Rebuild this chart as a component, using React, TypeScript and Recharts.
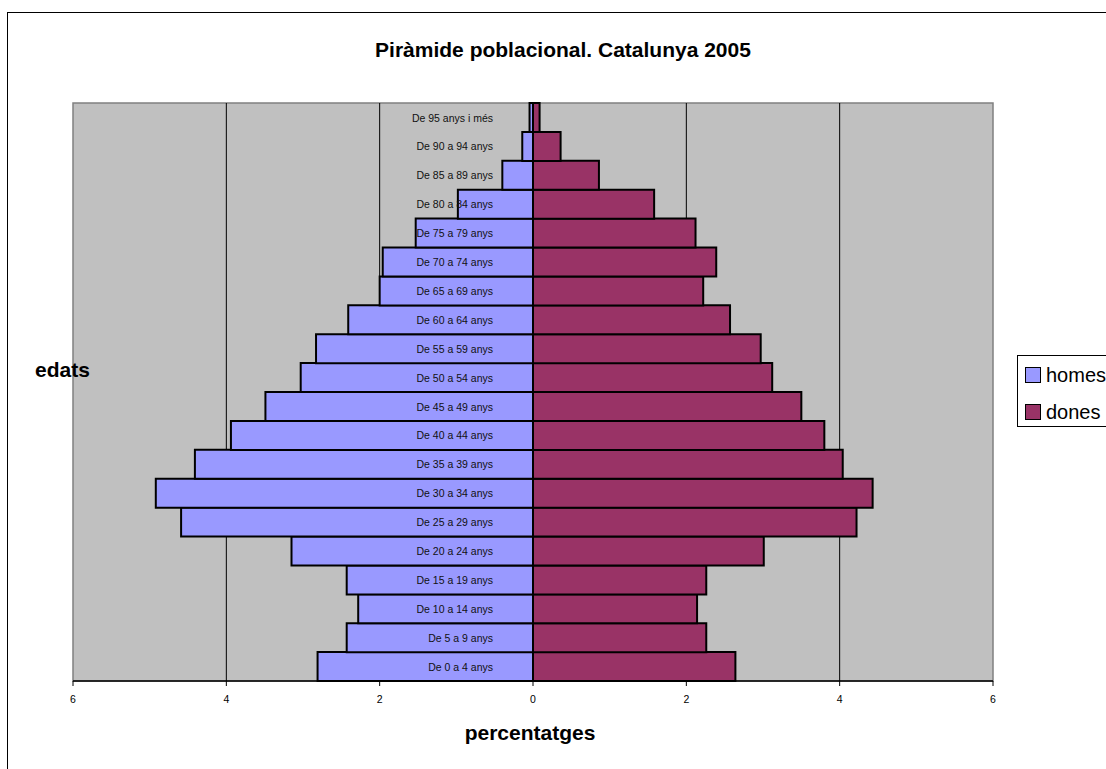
import React from 'react';
import {
  BarChart, Bar, XAxis, YAxis, ReferenceLine, ReferenceArea, Legend, LabelList,
} from 'recharts';

// ─── Data ─────────────────────────────────────────────────────────────────────
const AGES = [
  'De 0 a 4 anys', 'De 5 a 9 anys', 'De 10 a 14 anys', 'De 15 a 19 anys',
  'De 20 a 24 anys', 'De 25 a 29 anys', 'De 30 a 34 anys', 'De 35 a 39 anys',
  'De 40 a 44 anys', 'De 45 a 49 anys', 'De 50 a 54 anys', 'De 55 a 59 anys',
  'De 60 a 64 anys', 'De 65 a 69 anys', 'De 70 a 74 anys', 'De 75 a 79 anys',
  'De 80 a 84 anys', 'De 85 a 89 anys', 'De 90 a 94 anys', 'De 95 anys i més',
];
const HOMES = [
  2.81, 2.43, 2.28, 2.43, 3.15, 4.59, 4.92, 4.41, 3.94, 3.49,
  3.03, 2.83, 2.41, 2.0, 1.96, 1.53, 0.98, 0.4, 0.14, 0.045,
];
const DONES = [
  2.64, 2.26, 2.14, 2.26, 3.01, 4.22, 4.43, 4.04, 3.8, 3.5,
  3.12, 2.97, 2.57, 2.22, 2.39, 2.12, 1.58, 0.86, 0.36, 0.086,
];
const SERIES = ['homes', 'dones'];
const X_TICKS = [-6, -4, -2, 0, 2, 4, 6];
const GRID_X = [-4, -2, 2, 4];

const data = AGES.map((age, i) => ({ age, homes: -HOMES[i], dones: DONES[i] }));

const FONT = '"Liberation Sans", Arial, sans-serif';

// ─── Category label drawn left of the zero line ───────────────────────────────
const AgeLabel = (props: any) => {
  const { x, y, width, height, value } = props;
  const right = Math.max(x, x + width);
  return (
    <text
      x={right - 40}
      y={y + height / 2}
      textAnchor="end"
      dominantBaseline="central"
      fontSize={10.5}
      fontFamily={FONT}
      fill="#111"
    >
      {value}
    </text>
  );
};

// ─── Legend box ───────────────────────────────────────────────────────────────
const LegendBox = ({ payload }: any) => {
  const items = [...(payload || [])].sort(
    (a: any, b: any) => SERIES.indexOf(a.value) - SERIES.indexOf(b.value),
  );
  return (
    <div
      style={{
        border: '1px solid #000', background: '#fff', width: 120, height: 72,
        boxSizing: 'border-box', paddingLeft: 7, paddingTop: 4, fontFamily: FONT,
      }}
    >
      {items.map((p: any) => (
        <div key={p.value} style={{ display: 'flex', alignItems: 'center', height: 30, marginBottom: 7 }}>
          <span
            style={{
              display: 'inline-block', width: 14, height: 14, background: p.color,
              border: '1.5px solid #000', marginRight: 5,
            }}
          />
          <span style={{ fontSize: 20, color: '#000' }}>{p.value}</span>
        </div>
      ))}
    </div>
  );
};

export default function App() {
  return (
    <div style={{ position: 'absolute', left: 0, top: 0, width: 1106, height: 769, overflow: 'hidden', background: '#fff' }}>
      <div
        style={{
          position: 'absolute', left: 7, top: 12, width: 1140, height: 800,
          border: '1px solid #000', boxSizing: 'border-box',
        }}
      />
      <div style={{ position: 'absolute', left: 8, top: 13 }}>
        <BarChart
          width={1098}
          height={756}
          data={data}
          layout="vertical"
          stackOffset="sign"
          barCategoryGap={0}
          margin={{ top: 90, right: 113, left: 65, bottom: 58 }}
        >
          <ReferenceArea x1={-6} x2={6} fill="#C0C0C0" fillOpacity={1} stroke="#808080" strokeWidth={1.5} zIndex={-100} />
          {GRID_X.map((v) => (
            <ReferenceLine key={v} x={v} stroke="#000" strokeWidth={1} zIndex={-50} />
          ))}
          <XAxis
            type="number"
            domain={[-6, 6]}
            ticks={X_TICKS}
            tickFormatter={(v) => String(Math.abs(v))}
            height={30}
            tick={{ fontSize: 10.5, fill: '#000', fontFamily: FONT }}
            tickSize={5}
            tickMargin={10}
            axisLine={{ stroke: '#000', strokeWidth: 1.5 }}
            tickLine={{ stroke: '#000' }}
          />
          <YAxis type="category" dataKey="age" reversed hide />
          <Legend
            layout="horizontal"
            verticalAlign="middle"
            align="center"
            content={<LegendBox />}
            wrapperStyle={{ left: 1009, top: 342, width: 130 }}
          />
          <Bar dataKey="homes" name="homes" stackId="p" fill="#9999FF" stroke="#000" strokeWidth={2} isAnimationActive={false}>
            <LabelList dataKey="age" content={<AgeLabel />} />
          </Bar>
          <Bar dataKey="dones" name="dones" stackId="p" fill="#993366" stroke="#000" strokeWidth={2} isAnimationActive={false} />
        </BarChart>
      </div>
      <div style={{ position: 'absolute', left: 263, width: 600, top: 39, textAlign: 'center', fontFamily: FONT, fontWeight: 'bold', fontSize: 21, lineHeight: '21px' }}>
        Piràmide poblacional. Catalunya 2005
      </div>
      <div style={{ position: 'absolute', left: 430, width: 200, top: 722, textAlign: 'center', fontFamily: FONT, fontWeight: 'bold', fontSize: 21, lineHeight: '21px' }}>
        percentatges
      </div>
      <div style={{ position: 'absolute', left: 35, top: 359, fontFamily: FONT, fontWeight: 'bold', fontSize: 21, lineHeight: '21px' }}>
        edats
      </div>
    </div>
  );
}
